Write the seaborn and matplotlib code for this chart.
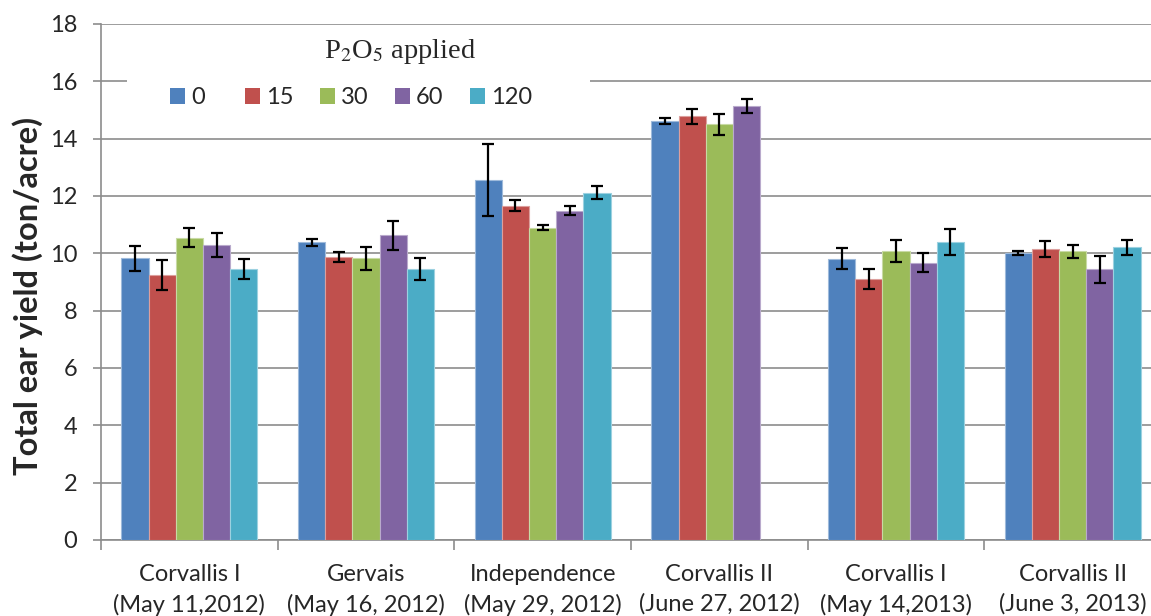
import numpy as np
import pandas as pd
import seaborn as sns
import matplotlib.pyplot as plt
from matplotlib.patches import Rectangle, Patch
from matplotlib.colors import to_rgb

# Harvest sites / dates
sites = [
    "Corvallis I\n(May 11,2012)",
    "Gervais\n(May 16, 2012)",
    "Independence\n(May 29, 2012)",
    "Corvallis II\n(June 27, 2012)",
    "Corvallis I\n(May 14,2013)",
    "Corvallis II\n(June 3, 2013)",
]
# P2O5 rates applied
rates = ["0", "15", "30", "60", "120"]

# Mean total ear yield (ton/acre) per rate, one value per site
yield_0 = [9.83, 10.38, 12.56, 14.62, 9.81, 10.01]
yield_15 = [9.25, 9.86, 11.66, 14.78, 9.10, 10.15]
yield_30 = [10.55, 9.83, 10.90, 14.50, 10.09, 10.07]
yield_60 = [10.30, 10.63, 11.49, 15.14, 9.67, 9.44]
yield_120 = [9.45, 9.44, 12.12, np.nan, 10.39, 10.21]

# Standard errors
se_0 = [0.43, 0.13, 1.25, 0.10, 0.36, 0.07]
se_15 = [0.52, 0.17, 0.20, 0.26, 0.34, 0.29]
se_30 = [0.32, 0.40, 0.10, 0.36, 0.38, 0.22]
se_60 = [0.42, 0.50, 0.15, 0.24, 0.33, 0.47]
se_120 = [0.35, 0.38, 0.23, np.nan, 0.45, 0.26]

yields = [yield_0, yield_15, yield_30, yield_60, yield_120]
errors = [se_0, se_15, se_30, se_60, se_120]
colors = ["#4F81BD", "#C0504D", "#9BBB59", "#8064A2", "#4BACC6"]

rows = []
for r, ys in zip(rates, yields):
    for s, v in zip(sites, ys):
        rows.append({"site": s, "rate": r, "yield": v})
df = pd.DataFrame(rows).dropna()

sns.set_style("white")
plt.rcParams["font.family"] = ["Lato", "DejaVu Sans"]

W, H = 1151, 616
fig = plt.figure(figsize=(W / 100, H / 100), dpi=100)
ax = fig.add_axes([101 / W, 1 - 540 / H, 1060 / W, 516 / H])

sns.barplot(
    data=df, x="site", y="yield", hue="rate",
    order=sites, hue_order=rates, palette=colors,
    width=0.77, gap=0, errorbar=None, saturation=1,
    legend=False, ax=ax, zorder=3,
)

# light rim on each bar, and the error bars
for cont, rate_err, col in zip(ax.containers, errors, colors):
    rim = tuple(0.55 * c + 0.45 for c in to_rgb(col))
    xs, hs, es = [], [], []
    for bar in cont:
        bar.set_edgecolor(rim)
        bar.set_linewidth(0.8)
        xc = bar.get_x() + bar.get_width() / 2
        idx = int(round(xc))
        xs.append(xc)
        hs.append(bar.get_height())
        es.append(rate_err[idx])
    ax.errorbar(xs, hs, yerr=es, fmt="none", ecolor="black",
                elinewidth=1.6, capsize=4.5, capthick=1.6, zorder=4)

grid_col = "#8c8c8c"
ax.set_ylim(0, 18)
ax.set_xlim(-0.5, len(sites) - 0.5)
ax.set_yticks(np.arange(0, 19, 2))
ax.yaxis.grid(True, color=grid_col, linewidth=1.2, zorder=0)
ax.set_axisbelow(True)

# group boundaries carry the tick marks, labels sit at group centres
ax.set_xticks(np.arange(-0.5, len(sites), 1.0))
ax.set_xticklabels([])
ax.set_xticks(np.arange(len(sites)), minor=True)
ax.set_xticklabels(sites, minor=True, fontsize=17, linespacing=1.5)
ax.tick_params(axis="x", which="major", length=7, width=1.2, color=grid_col, direction="out")
ax.tick_params(axis="x", which="minor", length=0, pad=17)
ax.tick_params(axis="y", length=6, width=1.2, color=grid_col, direction="out",
               labelsize=17, pad=11)
ax.tick_params(left=True, bottom=True, which="both")
ax.tick_params(axis="y", which="minor", left=False)

for side in ["top", "right"]:
    ax.spines[side].set_visible(False)
for side in ["left", "bottom"]:
    ax.spines[side].set_color(grid_col)
    ax.spines[side].set_linewidth(1.2)

ax.set_xlabel("")
ax.set_ylabel("")
fig.text(28 / W, 1 - 296 / H, "Total ear yield (ton/acre)", fontsize=23.5,
         fontweight="bold", rotation=90, ha="center", va="center")

# legend area: white panel over the gridline, one evenly spaced key per rate
ax.add_patch(Rectangle((127 / W, 1 - 125 / H), (590 - 127) / W, 95 / H,
                       transform=fig.transFigure, facecolor="white",
                       edgecolor="none", zorder=2))
for i, (rate, col) in enumerate(zip(rates, colors)):
    fig.legend([Patch(facecolor=col, edgecolor="none")], [rate],
               loc="center left", bbox_to_anchor=((170 + 75 * i) / W, 1 - 98 / H),
               frameon=False, fontsize=17, handlelength=0.64, handleheight=0.64,
               handletextpad=0.25, borderpad=0, borderaxespad=0)
fig.text(324 / W, 1 - 52 / H, r"P$_2$O$_5$ applied", fontsize=20.5,
         family="Liberation Serif", va="center", ha="left",
         math_fontfamily="stix")

fig.savefig("out.png", dpi=100)
